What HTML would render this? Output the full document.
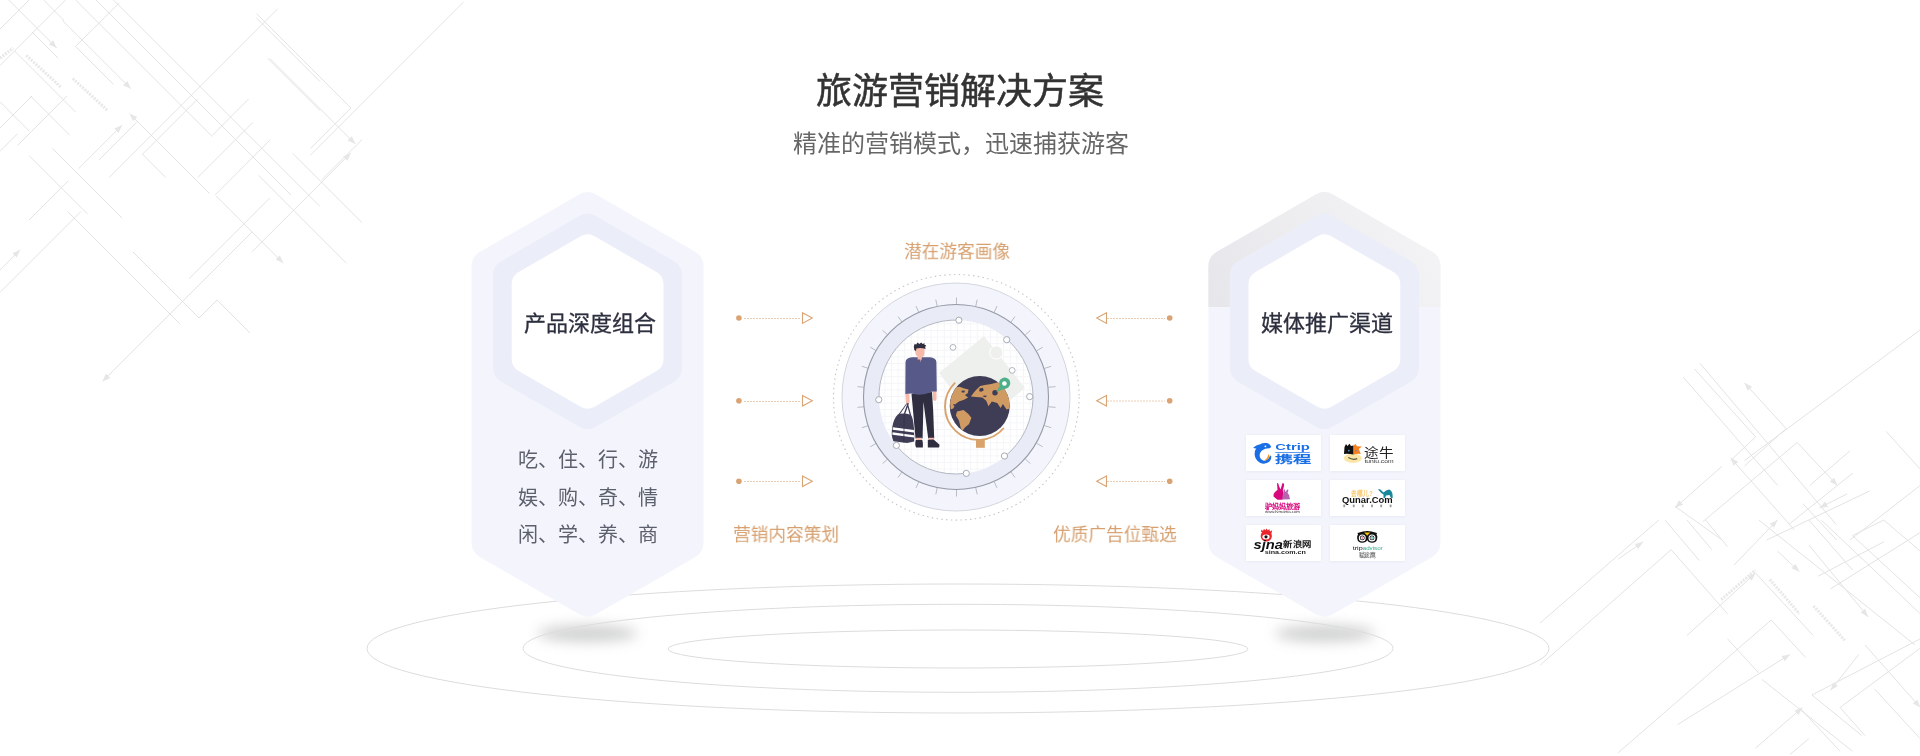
<!DOCTYPE html>
<html lang="zh-CN">
<head>
<meta charset="utf-8">
<style>
html,body{margin:0;padding:0;background:#fff;}
body{width:1920px;height:756px;overflow:hidden;position:relative;font-family:"Liberation Sans",sans-serif;}
svg.main{position:absolute;left:0;top:0;will-change:transform;}
.t{position:absolute;white-space:nowrap;line-height:1;will-change:transform;}
</style>
</head>
<body>
<svg class="main" width="1920" height="756" viewBox="0 0 1920 756">
<defs>
  <filter id="cardblur" x="-20%" y="-40%" width="140%" height="180%"><feGaussianBlur stdDeviation="1.5"/></filter>
  <filter id="blur8" x="-50%" y="-100%" width="200%" height="300%"><feGaussianBlur stdDeviation="6.5"/></filter>
  <pattern id="grid" x="0" y="0" width="6.6" height="6.6" patternUnits="userSpaceOnUse">
    <path d="M0 0.5H6.6M0.5 0V6.6" stroke="#f4f5f8" stroke-width="1" fill="none"/>
  </pattern>
  <linearGradient id="grayGrad" gradientUnits="userSpaceOnUse" x1="1420" y1="200" x2="1230" y2="320"><stop offset="0" stop-color="#f4f4f6"/><stop offset="1" stop-color="#e7e7eb"/></linearGradient>
  <clipPath id="innerClip"><circle cx="956" cy="397" r="77"/></clipPath>
</defs>

<!-- BG lines -->
<g id="bglines" stroke="#e3e3e3" stroke-width="1" fill="none"><path d="M1683.3 377.2L1777.8 485.6M1694.4 368.9L1755.6 436.9M1700.0 363.3L1836.1 524.4M1744.4 382.8L1786.1 428.6M1730.6 457.8L1794.4 530.0M1797.2 442.5L1837.5 485.6M1886.1 431.4L1920.0 468.9M1675.0 506.4L1722.2 540.0M1802.8 503.6L1836.7 540.0M1920.0 330.0L1744.4 460.6M1675.0 507.8L1722.2 466.1M1744.4 466.1L1786.1 428.6M1702.8 521.7L1797.2 442.5M1809.7 485.6L1850.0 450.8M1788.9 524.4L1852.8 473.1M1819.4 507.8L1847.2 493.9M1850.0 540.0L1920.0 485.6M1766.7 540.0L1869.4 491.1M1755.6 436.9L1730.6 460.6M1671.2 549.7L1540.0 665.3M1658.8 520.0L1540.0 623.1M1643.1 541.9L1618.1 559.1M1755.6 573.1L1686.9 635.6M1771.2 620.0L1618.1 752.8M1790.0 654.4L1677.5 724.7M1858.8 654.4L1830.6 690.3M1920.3 648.1L1840.0 707.5M1802.5 707.5L1755.6 748.1M1808.8 738.8L1790.0 754.4M1777.5 520.0L1733.8 565.3M1920.3 638.8L1811.9 695.0M1665.0 520.0L1699.4 560.6M1686.9 520.0L1711.9 549.7M1705.6 520.0L1727.5 546.6M1671.2 549.7L1727.5 613.8M1755.6 573.1L1813.4 635.6M1771.2 620.0L1805.6 657.5M1777.5 551.2L1799.4 571.6M1758.8 520.0L1915.0 645.0M1808.8 545.0L1868.1 616.9M1865.0 645.0L1920.3 707.5M1761.9 679.4L1852.5 751.2M1799.4 707.5L1840.0 751.2M1811.9 695.0L1861.9 735.6M1840.0 707.5L1865.0 735.6M1874.4 688.8L1920.3 738.8M1727.5 638.8L1758.8 673.1M1808.8 520.0L1852.5 570.0M1821.2 520.0L1920.3 613.8M1852.5 535.6L1920.3 598.1M1883.8 520.0L1920.3 551.2M1852.5 535.6L1883.8 520.0M1818.1 576.2L1883.8 541.9M1830.6 588.8L1920.3 532.5M8.7 0.0L56.7 48.0M62.5 20.4L130.9 88.7M75.6 46.5L113.5 84.4M75.6 0.0L212.4 136.7M96.0 0.0L290.9 194.9M113.5 0.0L320.0 206.5M14.5 50.9L75.6 112.0M30.5 96.0L69.8 135.3M129.5 113.5L209.5 193.5M267.6 58.2L320.0 110.5M256.0 17.5L320.0 81.5M142.5 154.2L165.8 177.5M32.0 32.0L58.2 58.2M0.0 101.8L29.1 130.9M29.1 155.6L87.3 213.8M52.4 148.4L122.2 218.2M43.6 0.0L64.0 20.4M0.0 29.1L29.1 0.0M0.0 65.5L65.5 0.0M78.5 168.7L122.2 125.1M98.9 160.0L136.7 122.2M109.1 177.5L277.8 8.7M142.5 154.2L197.8 98.9M197.8 177.5L253.1 122.2M215.3 194.9L270.5 139.6M0.0 128.0L32.0 96.0M17.5 145.5L66.9 96.0M29.1 219.9L68.4 180.7M212.4 135.3L248.7 98.9M75.6 46.5L119.3 2.9M0.0 151.3L17.5 133.8M310.4 155.2L463.4 2.2M256.4 13.5L350.9 108.0M310.4 148.5L350.9 108.0M269.9 58.5L355.4 144.0M321.7 179.9L362.1 139.5M251.9 251.9L350.9 153.0M258.7 175.4L346.4 263.2M292.4 153.0L362.1 222.7M0.0 292.4L81.0 211.4M0.0 269.9L20.2 249.7M188.9 278.9L269.9 197.9M67.5 211.4L179.9 323.9M215.9 195.7L283.4 263.2M102.5 381.4L252.0 232.0M133.0 252.0L181.0 300.0M181.0 300.0L199.0 318.0M199.0 318.0L217.0 300.0M217.0 300.0L250.0 333.0"/>
<path d="M1744.4 382.8L1752.0 386.7L1747.6 390.7ZM1730.6 457.8L1738.1 461.8L1733.6 465.8ZM1837.5 485.6L1829.8 481.8L1834.2 477.7ZM1675.0 507.8L1679.0 500.2L1683.0 504.7ZM1819.4 507.8L1825.3 501.5L1827.9 506.9ZM1643.1 541.9L1638.2 548.9L1634.8 543.9ZM1755.6 573.1L1751.7 580.7L1747.7 576.3ZM1790.0 654.4L1784.8 661.2L1781.6 656.1ZM1830.6 690.3L1833.2 682.2L1837.9 685.9ZM1802.5 707.5L1798.4 715.0L1794.5 710.5ZM1777.5 520.0L1774.1 527.8L1769.8 523.7ZM1799.4 571.6L1791.5 568.3L1795.6 563.9ZM1868.1 616.9L1860.7 612.6L1865.3 608.8ZM1920.3 707.5L1912.8 703.5L1917.3 699.5ZM56.7 48.0L48.9 44.5L53.2 40.2ZM130.9 88.7L123.1 85.2L127.4 80.9ZM129.5 113.5L137.2 117.0L133.0 121.2ZM122.2 125.1L118.6 132.9L114.4 128.6ZM355.4 144.0L347.6 140.4L351.9 136.2ZM350.9 153.0L347.4 160.7L343.1 156.5ZM20.2 249.7L16.7 257.5L12.5 253.2ZM283.4 263.2L275.6 259.6L279.9 255.4ZM102.5 381.4L106.0 373.6L110.3 377.9Z" fill="#e6e6e6" stroke="none"/>
<path d="M26.2 55.3L61.1 87.3M72.7 78.5L107.6 110.5M0.0 58.2L13.1 48.0M1721.2 599.7L1755.6 570.0M1769.7 579.4L1799.4 613.8M1813.4 605.9L1844.7 640.3" stroke-width="3" stroke-dasharray="2 1.2" stroke="#e8e8e8"/>
</g>

<!-- shadows -->
<ellipse cx="587.5" cy="633.5" rx="50" ry="8.5" fill="#8f9292" opacity="0.42" filter="url(#blur8)"/>
<ellipse cx="1325" cy="633.5" rx="50" ry="8.5" fill="#8f9292" opacity="0.42" filter="url(#blur8)"/>

<!-- ground ellipses -->
<g fill="none" stroke="#dcdcdc" stroke-width="1">
  <ellipse cx="958" cy="648.5" rx="591" ry="64.5"/>
  <ellipse cx="958" cy="648.3" rx="435" ry="44"/>
  <ellipse cx="958" cy="649" rx="290" ry="19"/>
</g>

<!-- Left hexagon -->
<g stroke-linejoin="round">
  <path d="M587.60 209.30L686.60 266.46L686.60 542.44L587.60 599.60L488.60 542.44L488.60 266.46Z" fill="#f4f5fc" stroke="#f4f5fc" stroke-width="34"/>
  <path d="M587.60 229.70L666.17 275.06L666.17 367.84L587.60 413.20L509.03 367.84L509.03 275.06Z" fill="#ebedf8" stroke="#ebedf8" stroke-width="32"/>
  <path d="M587.60 248.40L649.55 284.17L649.55 358.93L587.60 394.70L525.65 358.93L525.65 284.17Z" fill="#ffffff" stroke="#ffffff" stroke-width="28"/>
</g>

<!-- Right hexagon -->
<clipPath id="rhexTop"><rect x="1180" y="150" width="300" height="157"/></clipPath>
<g stroke-linejoin="round">
  <path d="M1324.40 209.30L1423.40 266.46L1423.40 542.44L1324.40 599.60L1225.40 542.44L1225.40 266.46Z" fill="#f4f5fc" stroke="#f4f5fc" stroke-width="34"/>
  <g clip-path="url(#rhexTop)"><path d="M1324.40 209.30L1423.40 266.46L1423.40 542.44L1324.40 599.60L1225.40 542.44L1225.40 266.46Z" fill="url(#grayGrad)" stroke="url(#grayGrad)" stroke-width="34"/></g>
  <path d="M1324.40 229.70L1402.97 275.06L1402.97 367.84L1324.40 413.20L1245.83 367.84L1245.83 275.06Z" fill="#ebedf8" stroke="#ebedf8" stroke-width="32"/>
  <path d="M1324.40 248.40L1386.35 284.17L1386.35 358.93L1324.40 394.70L1262.45 358.93L1262.45 284.17Z" fill="#ffffff" stroke="#ffffff" stroke-width="28"/>
</g>

<!-- arrows -->
<g fill="#d9a373">
  <circle cx="738.9" cy="318" r="2.8"/><circle cx="738.9" cy="400.8" r="2.8"/><circle cx="738.9" cy="481.3" r="2.8"/>
  <circle cx="1169.7" cy="318" r="2.8"/><circle cx="1169.7" cy="400.7" r="2.8"/><circle cx="1169.7" cy="481.2" r="2.8"/>
</g>
<g stroke="#d59d68" stroke-width="1" fill="none" stroke-dasharray="1 2">
  <path d="M744.5 318.5H801M744.5 401.5H801M744.5 481.5H801"/>
  <path d="M1107.5 318.5H1165M1107.5 401H1165M1107.5 481.5H1165"/>
</g>
<g stroke="#d9a373" stroke-width="1.1" fill="none" stroke-linejoin="miter">
  <path d="M802.5 312.8L812.3 318.1L802.5 323.4Z"/>
  <path d="M802.5 395.5L812.3 400.8L802.5 406.1Z"/>
  <path d="M802.5 476L812.3 481.3L802.5 486.6Z"/>
  <path d="M1106.5 312.8L1096.7 318.1L1106.5 323.4Z"/>
  <path d="M1106.5 395.4L1096.7 400.7L1106.5 406Z"/>
  <path d="M1106.5 475.9L1096.7 481.2L1106.5 486.5Z"/>
</g>

<!-- center circle -->
<g>
  <circle cx="956.3" cy="397.3" r="122.8" fill="none" stroke="#c6c7cc" stroke-width="1.1" stroke-dasharray="1.5 3.3"/>
  <circle cx="956" cy="397" r="114" fill="#f3f4fc" stroke="#d3d6de" stroke-width="1"/>
  <path d="M1048.5 387.3L1055.5 386.6M1044.5 368.4L1051.1 366.3M1036.6 350.8L1042.7 347.2M1025.2 335.1L1030.4 330.4M1010.9 322.2L1015.0 316.5M994.1 312.5L997.0 306.1M975.7 306.5L977.2 299.7M956.5 304.5L956.5 297.5M937.3 306.5L935.8 299.7M918.9 312.5L916.0 306.1M902.1 322.2L898.0 316.5M887.8 335.1L882.6 330.4M876.4 350.8L870.3 347.2M868.5 368.4L861.9 366.3M864.5 387.3L857.5 386.6M864.5 406.7L857.5 407.4M868.5 425.6L861.9 427.7M876.4 443.2L870.3 446.8M887.8 458.9L882.6 463.6M902.1 471.8L898.0 477.5M918.9 481.5L916.0 487.9M937.3 487.5L935.8 494.3M956.5 489.5L956.5 496.5M975.7 487.5L977.2 494.3M994.1 481.5L997.0 487.9M1010.9 471.8L1015.0 477.5M1025.2 458.9L1030.4 463.6M1036.6 443.3L1042.7 446.8M1044.5 425.6L1051.1 427.7M1048.5 406.7L1055.5 407.4" stroke="#b9bdc6" stroke-width="1"/>
  <circle cx="956" cy="397" r="92.5" fill="#e9ebf7" stroke="#959aa5" stroke-width="1.1"/>
  <circle cx="956" cy="397" r="77" fill="#ffffff"/>
  <rect x="870" y="310" width="180" height="180" fill="url(#grid)" clip-path="url(#innerClip)"/>
</g>

<!-- illustration -->
<g id="illus">
  <!-- gray card -->
  <path d="M939 373L984 336L1025 388L980 425Z" fill="#eef0ee"/>
  <circle cx="996.3" cy="352.5" r="6.6" fill="#eef0ee" stroke="#ffffff" stroke-width="1"/>
  <!-- globe stand -->
  <path d="M955.2 382.6 A33.3 33.3 0 1 0 1003.8 428" fill="none" stroke="#d9a26a" stroke-width="1.9"/>
  <rect x="976" y="439" width="8.8" height="8.8" fill="#d9a26a"/>
  <!-- globe -->
  <clipPath id="globeClip"><circle cx="979.7" cy="406" r="30"/></clipPath>
  <circle cx="979.7" cy="406" r="30" fill="#3f3d56"/>
  <g clip-path="url(#globeClip)">
  <path d="M956.1 387.3L959.8 386.8L963.5 388.2L968.6 389.6L967.7 393.3L964.9 395.1L968.1 397.5L964.0 399.8L958.9 401.6L955.6 403.9L953.3 408.6L950.6 409.5L950.1 402.6L951.5 396.1L953.8 391.0ZM970.9 396.5L973.7 392.8L976.0 390.1L980.2 385.9L984.8 385.0L991.3 383.9L997.8 382.2L1003.3 385.9L1008.0 391.9L1009.8 399.8L1009.6 408.6L1006.6 409.5L1002.9 403.9L1000.6 408.1L997.3 403.0L991.8 401.6L988.5 406.3L986.2 400.7L982.5 397.5L976.0 397.0ZM957.0 411.4L963.5 410.1L968.1 413.7L971.4 417.8L969.1 423.9L964.9 427.6L962.1 431.3L960.6 427.6L958.9 420.6L955.9 415.5Z" fill="#d09a63"/>
  <path d="M961.5 390.8L964.8 390.6L964.5 392.4L961.8 392.6ZM979.5 388.6L982.8 387.8L983.8 390.2L981.4 391.8L979.2 391.2ZM983.5 395.5L986.8 395.8L985.8 397.2L983.2 396.8ZM952.8 404.6L955.2 404L954.6 406.4Z" fill="#3f3d56"/>
  </g>
  <!-- pin -->
  <circle cx="995" cy="392.8" r="2.7" fill="#3f3d56"/>
  <path d="M996.4 391.9 L999.8 385.8 L1008.6 387.2 Z" fill="#4db08a"/>
  <circle cx="1004.7" cy="383.1" r="5.6" fill="#4db08a"/>
  <circle cx="1004.4" cy="383.5" r="2.3" fill="#ffffff"/>

  <!-- person -->
  <path d="M905.3 393.8 L909.4 393.8 L909.6 402 L908.2 404.5 L906 403.5 Z" fill="#f7b9a8"/>
  <path d="M932.6 391 L936.4 391 L936.6 399 L935 401.2 L933.2 400 Z" fill="#f7b9a8"/>
  <path d="M911.5 393.8 L932 392 L933.2 411 L934.2 438.6 L928.2 438.6 L923.5 402 L922.6 438.6 L915.5 438.6 Z" fill="#2f2e41"/>
  <path d="M905.5 362 Q906 357.8 912 357.3 L930 357.3 Q936 357.8 936.4 362 L936.8 391.4 L932.5 391.6 Q922 396.5 911.2 393.6 L905.3 394 Z" fill="#575a89"/>
  <path d="M919.8 357.6 L920.6 362.4 L921.6 357.6 Z" fill="#f0a896"/>
  <path d="M916.2 437.8 L922 437.8 L922 440.2 L916.2 440.2 Z M928.6 437.8 L933.8 437.8 L933.8 440 L928.6 440 Z" fill="#f7b9a8"/>
  <path d="M915.8 440 L922.4 440 Q923.2 444 922.8 447.4 L916.2 447.4 Q914.4 445 915.8 440 Z" fill="#2f2e41"/>
  <path d="M927.8 439.8 L933.6 439.6 L939 444.2 Q940.2 446.6 938.8 447.4 L927.8 447.4 Z" fill="#2f2e41"/>
  <path d="M915.2 347 L924.6 347 L924.4 353.5 Q924 356.8 921.8 357 L921.8 359.5 L917.6 359.5 L917.6 356.6 Q915.4 355.5 915.2 352 Z" fill="#f7b9a8"/>
  <path d="M914.3 350 L913.8 346.5 L914.6 344 L916.2 344.6 L917.6 342.6 L919.3 343.9 L921.2 342.5 L922.6 344 L924.4 343.2 L924.6 345 L926.2 345.2 L925.2 347 L925.6 349.2 L924.2 348.6 Q920 347.2 916.5 348.6 L915.8 351 Z" fill="#2f2e41"/>
  <!-- bag -->
  <path d="M907.6 403 L908.9 403.4 L905 414.6 L903.6 414.2 Z M906.8 403.6 L908 403.8 L911.2 415.2 L909.8 415.4 Z M906.4 403.4 L907.4 403.2 L899.8 414.6 L898.6 414.2 Z" fill="#3f3d56"/>
  <path d="M898 414.2 Q904.5 412.6 911 415 Q914.6 420.5 914.2 441.6 L907 443 L893.4 441.2 Q890.8 436 892.3 427 Q893.4 419 898 414.2 Z" fill="#3f3d56"/>
  <path d="M892.9 427.2 L913.9 430 L914 432.6 L892.6 429.7 Z M892.5 432.3 L914 435.3 L914 437.6 L892.4 434.7 Z" fill="#ffffff"/>
  <path d="M904.2 415 L903.8 442.5" stroke="#2f2e41" stroke-width="0.7"/>
  <!-- small nodes -->
  <g fill="#ffffff" stroke="#a6abb5" stroke-width="0.9">
    <circle cx="953" cy="347.4" r="2.9"/>
    <circle cx="1012.2" cy="370.4" r="2.9"/>
  </g>
</g>

<!-- orbit arcs -->
<g fill="none" stroke="#b3b8c1" stroke-width="1">
  <path d="M1007.0 339.3 A77 77 0 0 1 1004.9 456.5"/>
  <path d="M966.3 473.3 A77 77 0 0 1 896.2 445.5"/>
  <path d="M879.0 399.7 A77 77 0 0 1 958.9 320.1"/>
</g>
<g fill="#ffffff" stroke="#a6abb5" stroke-width="1">
  <circle cx="958.9" cy="320.2" r="3.1"/>
  <circle cx="1006.7" cy="339.7" r="3.1"/>
  <circle cx="1029.7" cy="396.6" r="3.1"/>
  <circle cx="1004.5" cy="456.0" r="3.1"/>
  <circle cx="966.3" cy="473.4" r="3.1"/>
  <circle cx="896.4" cy="445.4" r="3.1"/>
  <circle cx="878.8" cy="399.7" r="3.1"/>
</g>

<!-- logo cards -->
<g fill="#dde0ef" opacity="0.8" filter="url(#cardblur)">
  <rect x="1246" y="435.5" width="75" height="36"/>
  <rect x="1330" y="435.5" width="75" height="36"/>
  <rect x="1246" y="480.5" width="75" height="36"/>
  <rect x="1330" y="480.5" width="75" height="36"/>
  <rect x="1246" y="525.5" width="75" height="36"/>
  <rect x="1330" y="525.5" width="75" height="36"/>
</g>
<g fill="#ffffff">
  <rect x="1246" y="435" width="75" height="36"/>
  <rect x="1330" y="435" width="75" height="36"/>
  <rect x="1246" y="480" width="75" height="36"/>
  <rect x="1330" y="480" width="75" height="36"/>
  <rect x="1246" y="525" width="75" height="36"/>
  <rect x="1330" y="525" width="75" height="36"/>
</g>
<!-- ctrip -->
<g transform="translate(1246,435)">
  <path d="M25.2 12 Q23.5 8.2 20.2 8.1 Q16.5 7.8 14.2 9.3 Q11 9.8 7.2 12.4 Q8.5 13.7 10.3 13.3 Q8.2 16 8.6 19.4 Q9.2 25 14 27.8 Q18 29.6 22 27.6 Q25.4 25.6 25.3 21.5 L24 20.3 Q23.3 24 19.5 25.6 Q15.6 26 14 22.5 Q12.7 18.5 16 15.4 Q19 13.2 23.6 13.3 Z" fill="#1b6fe5"/>
  <circle cx="19.4" cy="11.3" r="0.9" fill="#fff"/>
  <path d="M22.6 18.9 Q24.3 21.5 22 24 Q20 25.8 17.6 25.5 Q21 24.5 22.6 18.9Z" fill="#f7941d"/>
  <text x="29.3" y="15.3" font-family="Liberation Sans" font-weight="bold" font-size="9.6" fill="#1b6fe5" textLength="34.5" lengthAdjust="spacingAndGlyphs">Ctrip</text>
  <rect x="29.4" y="17" width="34.4" height="0.7" fill="#1b6fe5"/>
  <text x="29.3" y="28.4" font-weight="bold" font-size="10.5" fill="#1b6fe5" textLength="34.5" lengthAdjust="spacingAndGlyphs">携程</text>
</g>
<!-- tuniu -->
<g transform="translate(1330,435)">
  <ellipse cx="22.8" cy="23.2" rx="9" ry="4.7" fill="#fbe6a6"/>
  <path d="M14 19 L14.5 12 L16 9 L17.5 11 L19.5 8.8 L21 11 L23.6 10.5 L23.6 19.5 Q18 18.5 14 19Z" fill="#111"/>
  <path d="M23.6 10.5 L25.6 8.9 L27 11.2 L31.9 11.5 L28.8 14 L30.8 19 Q27 18.5 23.6 19.5Z" fill="#f7811f"/>
  <circle cx="18.8" cy="15.6" r="0.9" fill="#5b8fd0"/><circle cx="25.8" cy="15.6" r="0.9" fill="#5b8fd0"/>
  <path d="M18.3 22.6 Q22.7 25.4 27.2 23.6" stroke="#5a5a44" stroke-width="1.2" fill="none"/>
  <text x="34.2" y="21.6" font-size="12.8" fill="#222" textLength="29.5" lengthAdjust="spacingAndGlyphs">途牛</text>
  <text x="34.4" y="28.4" font-family="Liberation Sans" font-size="5.6" fill="#333" textLength="29.2" lengthAdjust="spacingAndGlyphs">tuniu.com</text>
</g>
<!-- lvmama -->
<g transform="translate(1246,480)">
  <path d="M31 3 Q32.5 2.5 33 6 L34.5 9.5 L36.5 3 Q38.5 3 38 6 L36.8 10.5 Q38 13 37.5 16 L36.5 19.8 L31.5 19.8 Q28.5 17.5 27.5 16.5 Q27 13.5 29 12 Q30.5 10.5 31.5 10 Z" fill="#d8087d"/>
  <path d="M37.5 10 L38.5 9 L39.5 12 L41.5 9.2 L42.5 10 L41.5 13 Q43.5 14.5 43.5 17 L44 19.2 L36.5 19.5 Q36 15.5 37.5 13.5 Z" fill="#b565b0"/>
  <text x="18.7" y="28.7" font-weight="bold" font-size="7.2" fill="#d8087d" textLength="35" lengthAdjust="spacingAndGlyphs">驴妈妈旅游</text>
  <text x="19" y="32.6" font-family="Liberation Sans" font-size="3.6" fill="#333" textLength="35" lengthAdjust="spacingAndGlyphs">www.lvmama.com</text>
</g>
<!-- qunar -->
<g transform="translate(1330,480)">
  <text x="20.8" y="16.2" font-weight="bold" font-size="6.5" fill="#f8c66a" textLength="22" lengthAdjust="spacingAndGlyphs">去哪儿?</text>
  <path d="M48 9.5 Q50 8.5 51.5 10.5 L53.5 12.5 Q56 10 59 9.5 Q61.5 10 62.5 14 L62.7 18 L61 18 L59.5 15 L56 15.5 L55 18 L53.5 18 L53.5 14.5 Q51 13 49.5 11 Z" fill="#18889a"/>
  <text x="12" y="22.8" font-family="Liberation Sans" font-weight="bold" font-size="8.6" fill="#111" textLength="50.7" lengthAdjust="spacingAndGlyphs">Qunar.Com</text>
  <g fill="#9a9a9a"><rect x="13.3" y="24.6" width="1.8" height="2.6"/><rect x="22.8" y="24.6" width="1.8" height="2.6"/><rect x="31.9" y="24.6" width="1.8" height="2.6"/><rect x="41.1" y="24.6" width="1.8" height="2.6"/><rect x="50.3" y="24.6" width="1.8" height="2.6"/><rect x="59.7" y="24.6" width="1.8" height="2.6"/></g>
</g>
<!-- sina -->
<g transform="translate(1246,525)">
  <circle cx="20.3" cy="11" r="5.6" fill="#e8262b"/>
  <path d="M15 7 L15.5 4.5 L17 6 L18 3.8 L19.3 5.5 L20.5 3.5 L21.8 5.5 L23.3 4 L24 6.5 L26.2 5.2 L25.5 8.2 Z" fill="#e8262b"/>
  <ellipse cx="20" cy="12" rx="3.6" ry="2.4" fill="#fff"/>
  <circle cx="20" cy="11.8" r="1.6" fill="#111"/>
  <text x="7.5" y="23.8" font-family="Liberation Sans" font-weight="bold" font-style="italic" font-size="12.5" fill="#111" textLength="29.5" lengthAdjust="spacingAndGlyphs">sjna</text>
  <text x="37.2" y="22.3" font-weight="bold" font-size="8" fill="#222" textLength="28" lengthAdjust="spacingAndGlyphs">新浪网</text>
  <text x="18.8" y="28.9" font-family="Liberation Sans" font-weight="bold" font-size="5.8" fill="#222" textLength="41" lengthAdjust="spacingAndGlyphs">sina.com.cn</text>
</g>
<!-- tripadvisor -->
<g transform="translate(1330,525)">
  <path d="M27.5 8 L33 6.5 Q37.2 5.3 41.5 6.5 L47 8 L46.5 9.5 Q47.8 11 47.2 13.5 Q46.5 17.8 42 17.8 Q38.5 17.8 37.2 15 Q36 17.8 32.3 17.8 Q27.8 17.8 27.2 13.5 Q26.8 11 28 9.5 Z" fill="#111"/>
  <path d="M34.1 7.6 L40.2 7.6 L37.2 10.8Z" fill="#f5c400"/>
  <circle cx="32.3" cy="12.9" r="3.5" fill="#fff"/><circle cx="42" cy="12.9" r="3.5" fill="#fff"/>
  <circle cx="32.3" cy="12.9" r="2.4" fill="#111"/><circle cx="42" cy="12.9" r="2.4" fill="#111"/>
  <circle cx="32.3" cy="12.9" r="1.7" fill="#fff"/><circle cx="42" cy="12.9" r="1.7" fill="#fff"/>
  <circle cx="32.3" cy="12.9" r="1" fill="#f08aa0"/><circle cx="42" cy="12.9" r="1" fill="#56d0d0"/>
  <text x="22.7" y="24.8" font-family="Liberation Sans" font-size="6.2" fill="#111" textLength="10" lengthAdjust="spacingAndGlyphs">trip</text>
  <text x="32.7" y="24.8" font-family="Liberation Sans" font-size="6.2" fill="#34a88a" textLength="20" lengthAdjust="spacingAndGlyphs">advisor</text>
  <text x="28.8" y="32.4" font-size="5.2" fill="#333" textLength="16.7" lengthAdjust="spacingAndGlyphs">猫途鹰</text>
</g>
</svg>

<div class="t" style="left:816px;top:74px;font-size:36px;color:#333333;-webkit-text-stroke:0.5px #333333;">旅游营销解决方案</div>
<div class="t" style="left:793px;top:132px;font-size:24px;color:#666666;">精准的营销模式，迅速捕获游客</div>
<div class="t" style="left:524px;top:313px;font-size:22px;color:#2d2f3e;-webkit-text-stroke:0.3px #2d2f3e;">产品深度组合</div>
<div class="t" style="left:1261px;top:313px;font-size:22px;color:#2d2f3e;-webkit-text-stroke:0.3px #2d2f3e;">媒体推广渠道</div>
<div class="t" style="left:518px;top:450px;font-size:20px;color:#5c5f6c;">吃、住、行、游</div>
<div class="t" style="left:518px;top:488px;font-size:20px;color:#5c5f6c;">娱、购、奇、情</div>
<div class="t" style="left:518px;top:525px;font-size:20px;color:#5c5f6c;">闲、学、养、商</div>
<div class="t" style="left:904px;top:243px;font-size:18px;color:#d6a070;transform:scale(0.982);transform-origin:0 0;">潜在游客画像</div>
<div class="t" style="left:733px;top:526px;font-size:18px;color:#d6a070;transform:scale(0.982);transform-origin:0 0;">营销内容策划</div>
<div class="t" style="left:1053px;top:526px;font-size:18px;color:#d6a070;transform:scale(0.982);transform-origin:0 0;">优质广告位甄选</div>
</body>
</html>
